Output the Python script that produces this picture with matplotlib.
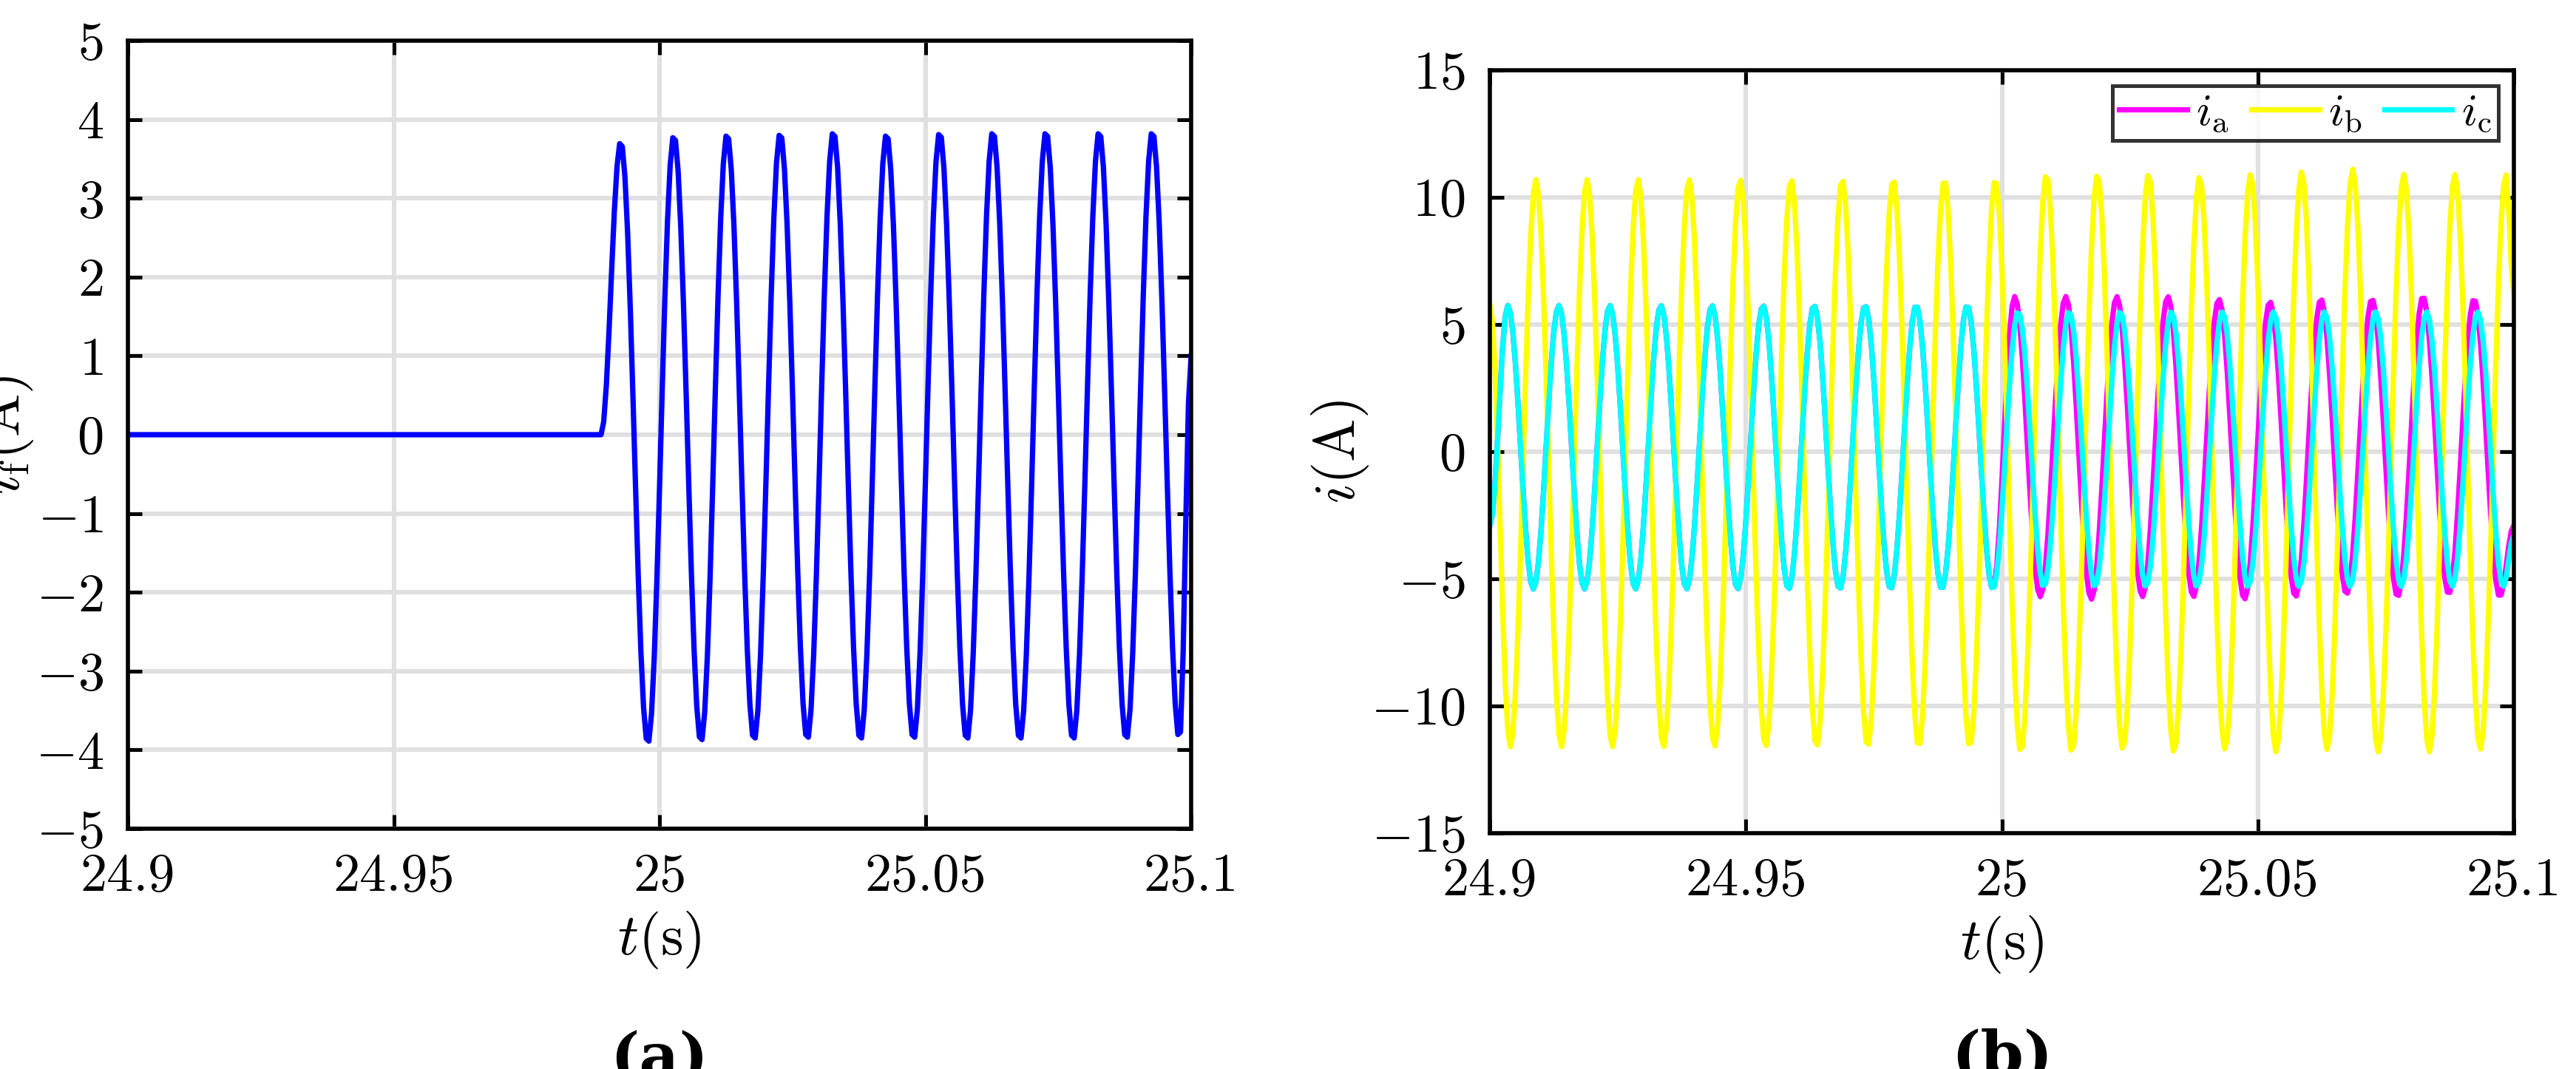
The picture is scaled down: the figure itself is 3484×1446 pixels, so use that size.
import numpy as np
import matplotlib
matplotlib.use("Agg")
from matplotlib import pyplot as plt

plt.rcParams['font.family'] = 'serif'
plt.rcParams['font.serif'] = ['cmr10']
plt.rcParams['mathtext.fontset'] = 'cm'
plt.rcParams['axes.formatter.use_mathtext'] = True

# ---- data (extremum times / values of each waveform) ----
# (a) field current: flat 0 until ~24.989 s, then 100 Hz oscillation
if_t0 = 24.989
if_peak_t = [24.9927, 25.0027, 25.0127, 25.0227, 25.0327, 25.0427, 25.0527, 25.0627, 25.0727, 25.0827, 25.0927]
if_peak_v = [3.72, 3.80, 3.82, 3.83, 3.85, 3.82, 3.84, 3.85, 3.85, 3.85, 3.85]
if_trough_t = [24.9978, 25.0078, 25.0178, 25.0278, 25.0378, 25.0478, 25.0578, 25.0678, 25.0778, 25.0878, 25.0978]
if_trough_v = [-3.92, -3.90, -3.88, -3.87, -3.88, -3.87, -3.88, -3.88, -3.88, -3.87, -3.87]
if_end = (25.1, 1.0)

# (b) phase currents
ib_peak_t = [24.909 + 0.00997 * k for k in range(20)]
ib_peak_v = [10.7, 10.7, 10.7, 10.7, 10.7, 10.7, 10.7, 10.7, 10.7, 10.7,
             10.9, 10.9, 10.9, 10.8, 10.9, 11.0, 11.1, 10.9, 10.9, 10.9]
ib_trough_t = [24.904 + 0.00997 * k for k in range(21)]
ib_trough_v = [-11.6, -11.6, -11.6, -11.6, -11.6, -11.6, -11.6, -11.6, -11.6, -11.6,
               -11.8, -11.8, -11.7, -11.8, -11.7, -11.8, -11.7, -11.8, -11.8, -11.7, -11.7]

ic_peak_t = [24.9035 + 0.00997 * k for k in range(20)]
ic_peak_v = [5.75] * 10 + [5.5] * 10
ic_trough_t = [24.9085 + 0.00997 * k for k in range(20)]
ic_trough_v = [-5.4] * 10 + [-5.3] * 10

ia_peak_t = [24.9035 + 0.00997 * k for k in range(10)] + [24.9028 + 0.00997 * k for k in range(10, 20)]
ia_peak_v = [5.75] * 10 + [6.1, 6.1, 6.1, 6.1, 6.0, 5.9, 6.0, 6.0, 6.1, 6.0]
ia_trough_t = [24.9085 + 0.00997 * k for k in range(10)] + [24.9078 + 0.00997 * k for k in range(10, 20)]
ia_trough_v = [-5.4] * 10 + [-5.7, -5.8, -5.7, -5.7, -5.8, -5.7, -5.6, -5.7, -5.6, -5.7]

start_b = {'ia': -2.9, 'ib': 5.8, 'ic': -2.9}
end_b = {'ia': -2.9, 'ib': 6.2, 'ic': -3.3}


def wave(ext_t, ext_v, t):
    # half-cosine joins between consecutive extrema
    order = np.argsort(ext_t)
    et = np.asarray(ext_t)[order]
    ev = np.asarray(ext_v)[order]
    y = np.interp(t, et, ev)
    idx = np.clip(np.searchsorted(et, t) - 1, 0, len(et) - 2)
    t0, t1 = et[idx], et[idx + 1]
    v0, v1 = ev[idx], ev[idx + 1]
    inside = (t >= et[0]) & (t <= et[-1])
    frac = np.clip((t - t0) / (t1 - t0), 0, 1)
    y[inside] = (v0 + (v1 - v0) * (1 - np.cos(np.pi * frac)) / 2)[inside]
    return y


ts = np.arange(24.9, 25.1 + 1e-9, 0.0005)

# (a)
ta_ext = [if_t0] + if_peak_t + if_trough_t + [if_end[0]]
va_ext = [0.0] + if_peak_v + if_trough_v + [if_end[1]]
i_f = wave(ta_ext, va_ext, ts)
i_f[ts < if_t0] = 0.0


def phase(pt, pv, tt, tv, key):
    return wave([24.9] + pt + tt + [25.1], [start_b[key]] + pv + tv + [end_b[key]], ts)


ia = phase(ia_peak_t, ia_peak_v, ia_trough_t, ia_trough_v, 'ia')
ib = phase(ib_peak_t, ib_peak_v, ib_trough_t, ib_trough_v, 'ib')
ic = phase(ic_peak_t, ic_peak_v, ic_trough_t, ic_trough_v, 'ic')

fig = plt.figure(figsize=(17.42, 7.23), dpi=200)
ax1 = fig.add_axes([173 / 3484, 1 - 1121 / 1446, (1611 - 173) / 3484, (1121 - 55) / 1446])
ax2 = fig.add_axes([2015 / 3484, 1 - 1127 / 1446, (3400 - 2015) / 3484, (1127 - 95) / 1446])

ax1.plot(ts, i_f, color='#0000ff', lw=2.6)
ax1.set_ylim(-5, 5)
ax1.set_yticks(range(-5, 6))
ax1.set_ylabel(r'$i_{\mathrm{f}}(\mathrm{A})$', fontsize=28, labelpad=0)

ax2.plot(ts, ia, color='#ff00ff', lw=2.6, label=r'$i_{\mathrm{a}}$')
ax2.plot(ts, ib, color='#ffff00', lw=2.6, label=r'$i_{\mathrm{b}}$')
ax2.plot(ts, ic, color='#00ffff', lw=2.6, label=r'$i_{\mathrm{c}}$')
ax2.set_ylim(-15, 15)
ax2.set_yticks(range(-15, 16, 5))
ax2.set_ylabel(r'$i(\mathrm{A})$', fontsize=28, labelpad=0)
leg = ax2.legend(loc='upper right', ncol=3, fontsize=22, frameon=True, fancybox=False,
                 edgecolor='black', handlelength=1.5, columnspacing=0.5, handletextpad=0.2,
                 borderpad=0.15, borderaxespad=0.35)
leg.get_frame().set_linewidth(1.8)

for ax, lab in [(ax1, '(a)'), (ax2, '(b)')]:
    ax.set_xlim(24.9, 25.1)
    ax.set_xticks([24.9, 24.95, 25, 25.05, 25.1])
    ax.set_xticklabels(['24.9', '24.95', '25', '25.05', '25.1'])
    ax.set_xlabel(r'$t(\mathrm{s})$', fontsize=28, labelpad=4)
    ax.grid(True, color='#e0e0e0', lw=2.2)
    ax.set_axisbelow(True)
    ax.tick_params(direction='in', top=True, right=True, labelsize=26, length=7, width=1.8, pad=12)
    for s in ax.spines.values():
        s.set_linewidth(2.0)
    ax.text(0.5, -0.255, lab, transform=ax.transAxes, ha='center', va='top', fontsize=30,
            family='DejaVu Serif', fontweight='bold')

fig.savefig('out.png', dpi=200, facecolor='white')
